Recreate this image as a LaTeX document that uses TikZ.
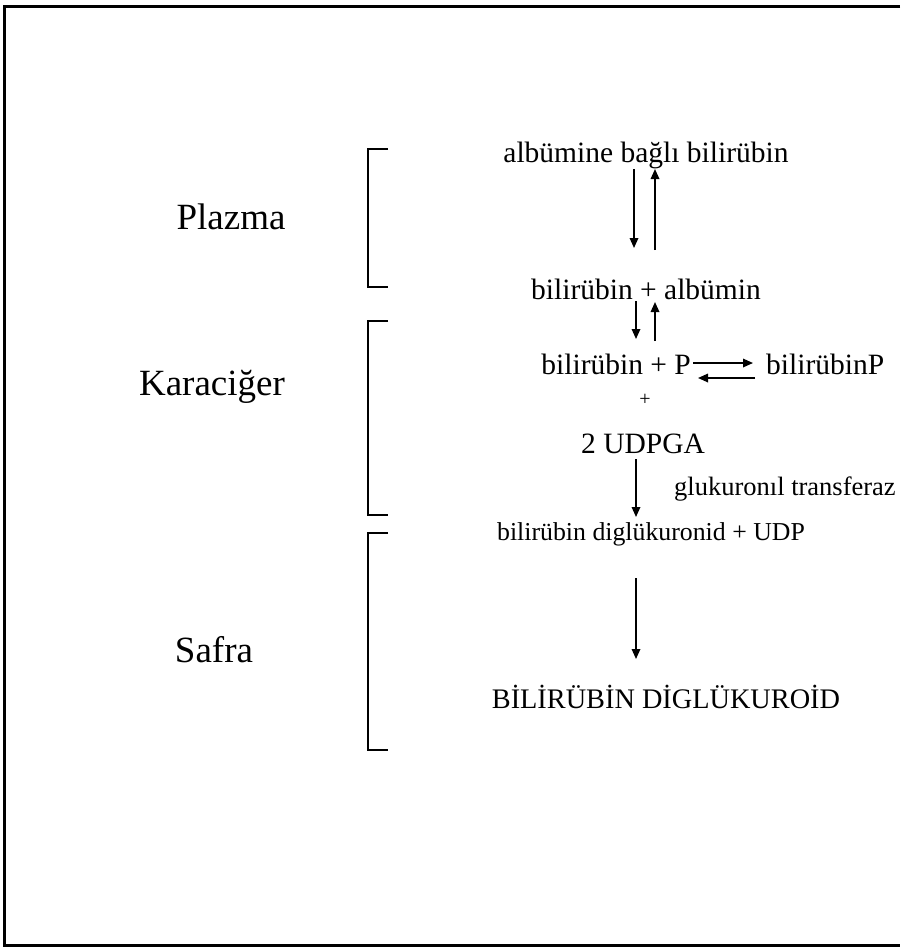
\documentclass[tikz,border=0pt]{standalone}
\usepackage{fontspec}
\setmainfont{Liberation Serif}
\usetikzlibrary{arrows.meta}
\begin{document}
\begin{tikzpicture}[x=1pt,y=-1pt,
  rx/.style={font=\fontsize{29.5}{32}\selectfont, inner sep=0pt, anchor=base},
  region/.style={font=\fontsize{37}{40}\selectfont, inner sep=0pt, anchor=base},
  brk/.style={line width=2.8pt},
  arr/.style={line width=1.7pt, -{Triangle[length=10pt,width=8.5pt]}},
  frame/.style={line width=3pt}]
\useasboundingbox (0,0) rectangle (900,948);
% frame
\draw[frame] (900,6) -- (4,6) -- (4,945) -- (900,945);
% region labels
\node[region] (plazma) at (231,229) {Plazma};
\node[region] (karaciger) at (212,395) {Karaciğer};
\node[region] (safra) at (214,662) {Safra};
% brackets
\draw[brk] (388,149) -- (368,149) -- (368,287) -- (388,287);
\draw[brk] (388,321) -- (368,321) -- (368,515) -- (388,515);
\draw[brk] (388,533) -- (368,533) -- (368,750) -- (388,750);
% texts
\node[rx] (alb) at (646,162) {albümine bağlı bilirübin};
\node[rx] (ba) at (646,299) {bilirübin + albümin};
\node[rx, anchor=base east] (bp) at (691,374) {bilirübin + P};
\node[rx, anchor=base west] (bP) at (766,374) {bilirübinP};
\node[font=\fontsize{20}{22}\selectfont, inner sep=0pt] (plus) at (645,400) {+};
\node[rx] (udpga) at (643,453) {2 UDPGA};
\node[font=\fontsize{26.5}{28}\selectfont, inner sep=0pt, anchor=base west] (gt) at (674,495) {glukuronıl transferaz};
\node[font=\fontsize{25.8}{28}\selectfont, inner sep=0pt, anchor=base] (dig) at (651,540) {bilirübin diglükuronid + UDP};
\node[font=\fontsize{28.3}{30}\selectfont, inner sep=0pt, anchor=base] (bd) at (666,708) {BİLİRÜBİN DİGLÜKUROİD};
% arrow end points
\coordinate (a1s) at (634,169); \coordinate (a1e) at (634,248);
\coordinate (a2s) at (655,250); \coordinate (a2e) at (655,169);
\coordinate (a3s) at (636,301); \coordinate (a3e) at (636,339);
\coordinate (a4s) at (655,341); \coordinate (a4e) at (655,302);
\coordinate (h1s) at (693,363); \coordinate (h1e) at (753,363);
\coordinate (h2s) at (755,378); \coordinate (h2e) at (698,378);
\coordinate (a5s) at (636,459); \coordinate (a5e) at (636,517);
\coordinate (a6s) at (636,578); \coordinate (a6e) at (636,659);
\draw[arr] (a1s) -- (a1e);
\draw[arr] (a2s) -- (a2e);
\draw[arr] (a3s) -- (a3e);
\draw[arr] (a4s) -- (a4e);
\draw[arr] (h1s) -- (h1e);
\draw[arr] (h2s) -- (h2e);
\draw[arr] (a5s) -- (a5e);
\draw[arr] (a6s) -- (a6e);
\end{tikzpicture}
\end{document}
